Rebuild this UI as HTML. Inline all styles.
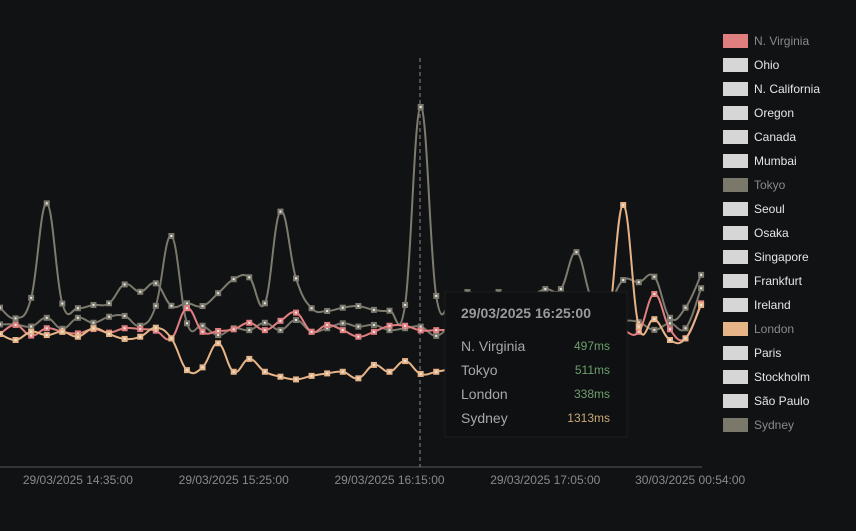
<!DOCTYPE html>
<html><head><meta charset="utf-8">
<style>
html,body{margin:0;padding:0;background:#111214;width:856px;height:531px;overflow:hidden;font-family:"Liberation Sans",sans-serif;}
svg{display:block}
</style></head><body>
<svg id="chart" width="856" height="531">
<rect width="856" height="531" fill="#111214"/>
<line x1="0" y1="467" x2="702" y2="467" stroke="#55575b" stroke-width="1"/>
<g id="xlabels"></g>
<line x1="420" y1="58" x2="420" y2="467" stroke="#8a8a8a" stroke-dasharray="4,3" stroke-width="1"/>
<g id="series"></g>
<g id="legend"></g>
<g>
<rect x="445" y="292" width="182" height="145" fill="#0e1011" stroke="#1a1c1e"/>
<text x="461" y="318" fill="#9a9a9a" font-size="14" font-weight="bold">29/03/2025 16:25:00</text>
<g font-size="14" fill="#a8a8a8">
<text x="461" y="351">N. Virginia</text>
<text x="461" y="375">Tokyo</text>
<text x="461" y="399">London</text>
<text x="461" y="423">Sydney</text>
</g>
<g font-size="12" text-anchor="end">
<text x="610" y="350" fill="#6f9f6f">497ms</text>
<text x="610" y="374" fill="#6f9f6f">511ms</text>
<text x="610" y="398" fill="#6f9f6f">338ms</text>
<text x="610" y="422" fill="#c9a878">1313ms</text>
</g>
</g>
</svg>
<script>
const xTickLabels=["29/03/2025 14:35:00","29/03/2025 15:25:00","29/03/2025 16:15:00","29/03/2025 17:05:00","30/03/2025 00:54:00"];
const xTickIndex=[5,15,25,35,44.3];
const sydney=[580,541,616,961,595,578,590,596,665,638,669,587,596,586,633,684,691,596,931,687,578,568,580,586,572,569,590,1313,623,608,637,623,637,623,623,648,648,783,608,590,681,673,693,543,580,700];
const tokyo=[519,519,511,543,503,543,525,547,550,514,587,842,523,514,480,505,498,525,498,535,492,505,523,511,517,498,505,511,477,517,520,515,525,510,520,530,515,505,520,525,533,527,499,523,505,651];
const nVirginia=[484,517,478,505,492,486,502,489,505,502,496,468,578,492,495,501,525,498,532,562,492,517,498,474,492,514,514,497,498,500,505,495,510,500,505,498,502,510,515,520,498,492,630,501,468,596];
const london=[484,462,492,480,492,474,505,484,466,474,507,468,352,362,450,346,393,346,328,318,331,340,346,322,371,346,385,338,346,356,360,365,370,380,375,390,420,480,389,498,955,511,538,462,468,590];
const legendNames=["N. Virginia","Ohio","N. California","Oregon","Canada","Mumbai","Tokyo","Seoul","Osaka","Singapore","Frankfurt","Ireland","London","Paris","Stockholm","São Paulo","Sydney"];

const NS="http://www.w3.org/2000/svg";
const xScale=i=>i*15.58;
const yScale=v=>466.5-v*0.2738;
function el(t,a,p){const e=document.createElementNS(NS,t);for(const k in a)e.setAttribute(k,a[k]);p.appendChild(e);return e;}
function slug(s){return s.toLowerCase().normalize('NFD').replace(/[\u0300-\u036f]/g,'').replace(/[^a-z0-9]+/g,'-').replace(/^-|-$/g,'');}

const xl=document.getElementById('xlabels');
xTickLabels.forEach((t,i)=>{
  const e=el('text',{x:xScale(xTickIndex[i]),y:484,fill:'#8a8a8a','font-size':12,'text-anchor':'middle'},xl);
  e.textContent=t;
  
  
});

function path(vals){
  const p=vals.map((v,i)=>[xScale(i),yScale(v)]);
  let d='M'+p[0][0]+','+p[0][1];
  for(let i=0;i<p.length-1;i++){
    const p0=p[Math.max(0,i-1)],p1=p[i],p2=p[i+1],p3=p[Math.min(p.length-1,i+2)];
    const t=0.2;
    const c1=[p1[0]+(p2[0]-p0[0])*t,p1[1]+(p2[1]-p0[1])*t];
    const c2=[p2[0]-(p3[0]-p1[0])*t,p2[1]-(p3[1]-p1[1])*t];
    d+=' C'+c1[0].toFixed(1)+','+c1[1].toFixed(1)+' '+c2[0].toFixed(1)+','+c2[1].toFixed(1)+' '+p2[0].toFixed(1)+','+p2[1].toFixed(1);
  }
  return d;
}
const sg=document.getElementById('series');
const seriesList=[["sydney",sydney,"#7d7a6e"],["tokyo",tokyo,"#7a776b"],["n-virginia",nVirginia,"#e07f80"],["london",london,"#e6b487"]];
seriesList.forEach(([name,vals,col])=>{
  const g=el('g',{},sg);
  
  
  const ln=el('path',{d:path(vals),fill:'none',stroke:col,'stroke-width':2},g);
  
  
  vals.forEach((v,i)=>{
    const r=el('rect',{x:xScale(i)-3,y:yScale(v)-3,width:6,height:6,fill:col},g);
    
    
    const c=el('rect',{x:xScale(i)-1,y:yScale(v)-1,width:2,height:2,fill:'#e8e8e8'},g);
    
    
  });
});

const lg=document.getElementById('legend');
const active={"N. Virginia":"#e07f80","Tokyo":"#7a776b","London":"#e6b487","Sydney":"#7a776b"};
legendNames.forEach((n,i)=>{
  const y=34+i*24;
  const g=el('g',{},lg);
  
  
  const r=el('rect',{x:723,y:y,width:25,height:14,fill:active[n]||'#d6d6d6'},g);
  
  
  const t=el('text',{x:754,y:y+11,'font-size':12,fill:active[n]?'#8a8a8a':'#e6e6e6'},g);
  t.textContent=n;
  
  
});
</script>
</body></html>
